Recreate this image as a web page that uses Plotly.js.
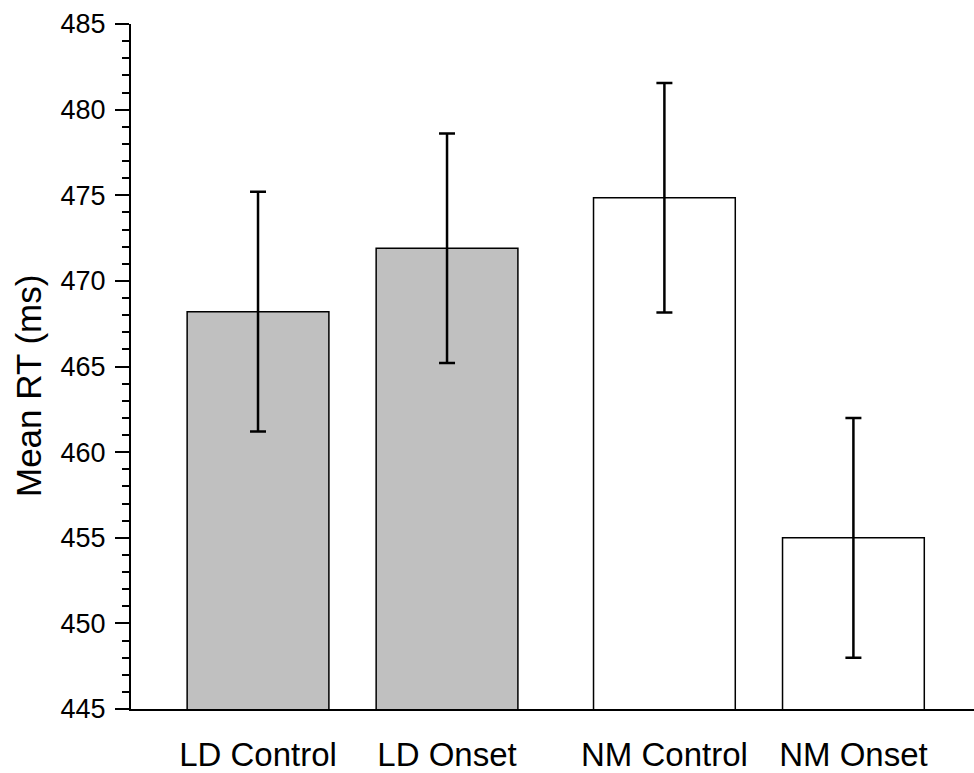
<!DOCTYPE html>
<html>
<head>
<meta charset="utf-8">
<script src="https://cdn.plot.ly/plotly-3.0.1.min.js"></script>
<style>html,body{margin:0;padding:0;background:#fff;}#chart{width:974px;height:773px;}</style>
</head>
<body>
<div id="chart"></div>
<script>
const categories = ['LD Control', 'LD Onset', 'NM Control', 'NM Onset'];
const xPositions = [1, 2, 3.15, 4.15];
const meanRT = [468.2, 471.9, 474.85, 455.0];
const errorRT = [7.0, 6.7, 6.7, 7.0];
const barColors = ['#c0c0c0', '#c0c0c0', '#ffffff', '#ffffff'];
const yTicks = [445, 450, 455, 460, 465, 470, 475, 480, 485];

const FONT = 'Arial, "Liberation Sans", sans-serif';

const trace = {
  type: 'bar',
  x: xPositions,
  y: meanRT,
  width: 0.75,
  marker: { color: barColors, line: { color: '#000', width: 1.5 } },
  error_y: { type: 'data', array: errorRT, visible: true, color: '#000', thickness: 2.5, width: 8 },
  hoverinfo: 'x+y'
};

const layout = {
  width: 974, height: 773,
  margin: { l: 131, r: 0, t: 24, b: 64 },
  paper_bgcolor: '#fff', plot_bgcolor: '#fff',
  showlegend: false,
  font: { family: FONT, color: '#000' },
  xaxis: {
    range: [0.328, 4.788],
    tickvals: xPositions,
    ticktext: categories,
    ticks: '',
    showline: true, linecolor: '#000', linewidth: 2,
    showgrid: false, zeroline: false,
    tickfont: { family: FONT, size: 33, color: '#000' },
    ticklabelstandoff: 15
  },
  yaxis: {
    range: [445, 485],
    tickvals: yTicks,
    ticks: 'outside', ticklen: 14, tickwidth: 2, tickcolor: '#000',
    minor: { dtick: 1, tick0: 445, ticks: 'outside', ticklen: 7, tickwidth: 2, tickcolor: '#000' },
    showline: true, linecolor: '#000', linewidth: 2,
    showgrid: false, zeroline: false,
    tickfont: { family: FONT, size: 27, color: '#000' },
    ticklabelstandoff: 4
  },
  annotations: [{
    text: 'Mean RT (ms)',
    xref: 'paper', yref: 'paper',
    x: -0.1222, y: 0.4715,
    xanchor: 'center', yanchor: 'middle',
    textangle: -90,
    showarrow: false,
    font: { family: FONT, size: 35, color: '#000' }
  }]
};

Plotly.newPlot('chart', [trace], layout, { displayModeBar: false, staticPlot: true });
</script>
</body>
</html>
